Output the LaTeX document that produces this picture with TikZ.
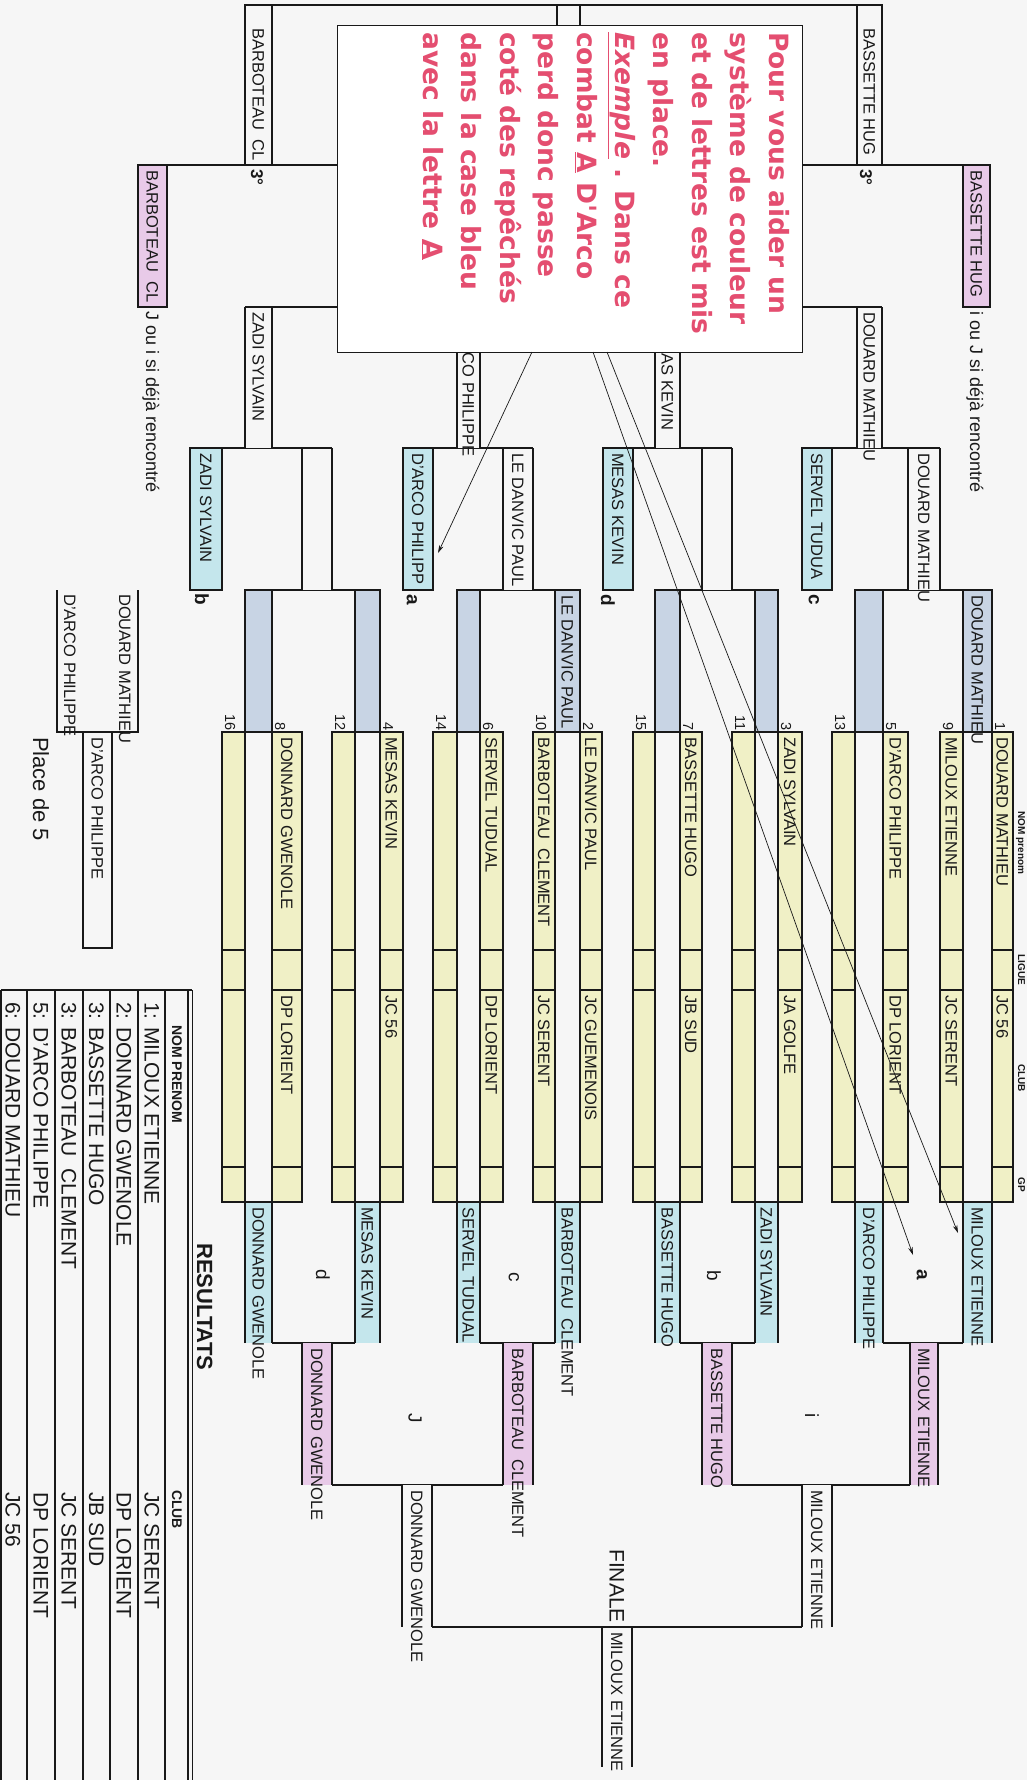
\documentclass[tikz,border=0pt]{standalone}
\usepackage{fontspec}
\setmainfont{Liberation Sans}
\newfontfamily\callfont{DejaVu Sans}
\usetikzlibrary{arrows.meta}
\definecolor{bg}{RGB}{246,246,246}
\definecolor{ink}{RGB}{25,25,25}
\definecolor{yel}{RGB}{240,240,198}
\definecolor{gblue}{RGB}{200,212,228}
\definecolor{lblue}{RGB}{196,230,236}
\definecolor{pinkb}{RGB}{232,202,232}
\definecolor{callred}{RGB}{228,78,112}
% seed column: xL xR number name club id
\newcommand\seedcol[6]{%
  \fill[yel] (#1,732) rectangle (#2,1202);
  \draw[ln] (#1,732) rectangle (#2,1202);
  \draw[ln] (#1,950) -- (#2,950) (#1,990) -- (#2,990) (#1,1167) -- (#2,1167);
  \node[numtxt] (num#6) at (#1+3,731) {#3};
  \node[nm] (seed#6) at ({(#1+#2)/2},737) {#4};
  \node[nm] (club#6) at ({(#1+#2)/2},995) {#5};
}
% box with side lines only: xL xR yT yB colour
\newcommand\sidebox[5]{%
  \fill[#5] (#1,#3) rectangle (#2,#4);
  \draw[ln] (#1,#3) -- (#1,#4) (#2,#3) -- (#2,#4);
}
% box with top and side lines
\newcommand\topbox[5]{%
  \fill[#5] (#1,#3) rectangle (#2,#4);
  \draw[ln] (#1,#4) -- (#1,#3) -- (#2,#3) -- (#2,#4);
}
% closed box
\newcommand\closedbox[5]{%
  \draw[ln,fill=#5] (#1,#3) rectangle (#2,#4);
}
\begin{document}
\begin{tikzpicture}[x=1pt,y=-1pt,
  ln/.style={line width=1.1pt,draw=ink},
  nm/.style={font=\fontsize{16.5}{18}\selectfont,text=ink,rotate=-90,anchor=west,inner sep=0pt,text height=11.8pt,text depth=0pt},
  numtxt/.style={font=\fontsize{14.5}{16}\selectfont,text=ink,rotate=-90,anchor=south east,inner sep=0pt,text depth=0pt},
  lbl/.style={font=\fontsize{19}{21}\selectfont,text=ink,rotate=-90,inner sep=0pt},
  lblb/.style={font=\fontsize{19}{21}\selectfont\bfseries,text=ink,rotate=-90,inner sep=0pt},
  note/.style={font=\fontsize{18}{20}\selectfont,text=ink,rotate=-90,anchor=west,inner sep=0pt,text height=13pt,text depth=0pt},
  tab/.style={font=\fontsize{21}{23}\selectfont,text=ink,rotate=-90,anchor=west,inner sep=0pt,text height=15pt,text depth=0pt},
  tabh/.style={font=\fontsize{14}{16}\selectfont\bfseries,text=ink,rotate=-90,anchor=west,inner sep=0pt,text height=10pt,text depth=0pt},
  hdr/.style={font=\fontsize{10}{11}\selectfont\bfseries,text=ink,rotate=-90,anchor=base,inner sep=0pt},
  call/.style={font=\callfont\bfseries\fontsize{26.5}{30}\selectfont,text=callred,rotate=-90,anchor=base west,inner sep=0pt},
  arr/.style={line width=0.7pt,draw=ink,-{Stealth[length=8pt,width=4.5pt]}}
]
\fill[bg] (0,0) rectangle (1027,1780);
\useasboundingbox (0,0) rectangle (1027,1780);

% ---------------- seeds ----------------
\seedcol{992}{1013}{1}{DOUARD MATHIEU}{JC 56}{a1}
\seedcol{940}{963}{9}{MILOUX ETIENNE}{JC SERENT}{a9}
\seedcol{883}{908}{5}{D'ARCO PHILIPPE}{DP LORIENT}{a5}
\seedcol{832}{855}{13}{}{}{a13}
\seedcol{778}{802}{3}{ZADI SYLVAIN}{JA GOLFE}{a3}
\seedcol{732}{755}{11}{}{}{a11}
\seedcol{680}{702}{7}{BASSETTE HUGO}{JB SUD}{a7}
\seedcol{633}{655}{15}{}{}{a15}
\seedcol{580}{602}{2}{LE DANVIC PAUL}{JC GUEMENOIS}{a2}
\seedcol{533}{555}{10}{BARBOTEAU\ \ CLEMENT}{JC SERENT}{a10}
\seedcol{480}{503}{6}{SERVEL TUDUAL}{DP LORIENT}{a6}
\seedcol{433}{457}{14}{}{}{a14}
\seedcol{380}{403}{4}{MESAS KEVIN}{JC 56}{a4}
\seedcol{332}{355}{12}{}{}{a12}
\seedcol{272}{302}{8}{DONNARD GWENOLE}{DP LORIENT}{a8}
\seedcol{222}{245}{16}{}{}{a16}

\node[hdr] (hnom) at (1018,843) {NOM prenom};
\node[hdr] (hlig) at (1018,970) {LIGUE};
\node[hdr] (hclub) at (1018,1078) {CLUB};
\node[hdr] (hgp) at (1018,1185) {GP};

% ---------------- losers (grey) ----------------
\closedbox{963}{992}{590}{732}{gblue}
\closedbox{855}{883}{590}{732}{gblue}
\closedbox{755}{778}{590}{732}{gblue}
\closedbox{655}{680}{590}{732}{gblue}
\closedbox{555}{580}{590}{732}{gblue}
\closedbox{457}{480}{590}{732}{gblue}
\closedbox{355}{380}{590}{732}{gblue}
\closedbox{245}{272}{590}{732}{gblue}
\node[nm] (gr1) at (977.5,595) {DOUARD MATHIEU};
\node[nm] (gr2) at (567.5,595) {LE DANVIC PAUL};

% ---------------- main bracket ----------------
\topbox{963}{992}{1202}{1343}{lblue}
\topbox{855}{883}{1202}{1343}{lblue}
\topbox{755}{778}{1202}{1343}{lblue}
\topbox{655}{680}{1202}{1343}{lblue}
\topbox{555}{580}{1202}{1343}{lblue}
\topbox{457}{480}{1202}{1343}{lblue}
\topbox{355}{380}{1202}{1343}{lblue}
\topbox{245}{272}{1202}{1343}{lblue}
\node[nm] (w1) at (977.5,1207) {MILOUX ETIENNE};
\node[nm] (w2) at (869,1207) {D'ARCO PHILIPPE};
\node[nm] (w3) at (766.5,1207) {ZADI SYLVAIN};
\node[nm] (w4) at (667.5,1207) {BASSETTE HUGO};
\node[nm] (w5) at (567.5,1207) {BARBOTEAU\ \ CLEMENT};
\node[nm] (w6) at (468.5,1207) {SERVEL TUDUAL};
\node[nm] (w7) at (367.5,1207) {MESAS KEVIN};
\node[nm] (w8) at (258.5,1207) {DONNARD GWENOLE};
\draw[ln] (883,1343) -- (963,1343) (680,1343) -- (755,1343)
          (480,1343) -- (555,1343) (272,1343) -- (355,1343);
\node[lblb] (la) at (922,1275) {a};
\node[lbl] (lb) at (714,1276) {b};
\node[lbl] (lc) at (514,1277) {c};
\node[lbl] (ld) at (323,1275) {d};

\sidebox{910}{938}{1343}{1485}{pinkb}
\sidebox{702}{732}{1343}{1485}{pinkb}
\sidebox{503}{533}{1343}{1485}{pinkb}
\sidebox{302}{332}{1343}{1485}{pinkb}
\node[nm] (q1) at (924,1348) {MILOUX ETIENNE};
\node[nm] (q2) at (717,1348) {BASSETTE HUGO};
\node[nm] (q3) at (518,1348) {BARBOTEAU\ \ CLEMENT};
\node[nm] (q4) at (317,1348) {DONNARD GWENOLE};
\draw[ln] (732,1485) -- (910,1485) (332,1485) -- (503,1485);
\node[lbl] (li) at (812,1416) {i};
\node[lbl] (lj) at (415,1418) {J};

\sidebox{802}{832}{1485}{1627}{bg}
\sidebox{402}{432}{1485}{1627}{bg}
\node[nm] (sf1) at (817,1490) {MILOUX ETIENNE};
\node[nm] (sf2) at (417,1490) {DONNARD GWENOLE};
\draw[ln] (432,1627) -- (802,1627);
\draw[ln] (602,1627) -- (602,1767) (632,1627) -- (632,1767);
\node[font=\fontsize{21}{23}\selectfont,text=ink,rotate=-90,anchor=east,inner sep=0pt,text height=15pt,text depth=0pt] (finale) at (617,1623) {FINALE};
\node[nm] (champ) at (617,1632) {MILOUX ETIENNE};

% ---------------- repechage ----------------
\draw[ln] (245,590) -- (380,590) (457,590) -- (580,590)
          (655,590) -- (778,590) (855,590) -- (992,590);
\sidebox{302}{332}{448}{590}{bg}
\sidebox{503}{533}{448}{590}{bg}
\sidebox{702}{732}{448}{590}{bg}
\sidebox{908}{940}{448}{590}{bg}
\node[nm] (r1) at (518,453) {LE DANVIC PAUL};
\node[nm] (r2) at (924,453) {DOUARD MATHIEU};
\closedbox{190}{222}{448}{590}{lblue}
\closedbox{403}{433}{448}{590}{lblue}
\closedbox{603}{633}{448}{590}{lblue}
\closedbox{802}{832}{448}{590}{lblue}
\node[nm] (e1) at (206,453) {ZADI SYLVAIN};
\node[nm] (e2) at (418,453) {D'ARCO PHILIPP};
\node[nm] (e3) at (618,453) {MESAS KEVIN};
\node[nm] (e4) at (817,453) {SERVEL TUDUA};
\node[lblb] (rb) at (202,599) {b};
\node[lblb] (ra) at (412,600) {a};
\node[lblb] (rd) at (608,600) {d};
\node[lblb] (rc) at (814,600) {c};
\draw[ln] (190,448) -- (332,448) (403,448) -- (533,448)
          (603,448) -- (732,448) (802,448) -- (940,448);
\sidebox{245}{272}{307}{448}{bg}
\sidebox{457}{480}{307}{448}{bg}
\sidebox{655}{680}{307}{448}{bg}
\sidebox{857}{882}{307}{448}{bg}
\node[nm] (t1) at (258.5,312) {ZADI SYLVAIN};
\node[nm] (t2) at (468.5,314) {D'ARCO PHILIPPE};
\node[nm] (t3) at (667.5,318) {MESAS KEVIN};
\node[nm] (t4) at (869.5,312) {DOUARD MATHIEU};
\draw[ln] (245,307) -- (480,307) (655,307) -- (882,307);
\sidebox{355}{380}{165}{307}{bg}
\sidebox{755}{778}{165}{307}{bg}
\draw[ln] (138,165) -- (380,165) (755,165) -- (990,165);
\closedbox{138}{167}{165}{307}{pinkb}
\closedbox{963}{990}{165}{307}{pinkb}
\node[nm] (p1) at (152.5,170) {BARBOTEAU\ \ CL};
\node[nm] (p2) at (976.5,170) {BASSETTE HUG};
\node[note] (n1) at (152.5,311) {J ou i si déjà rencontré};
\node[note] (n2) at (976.5,311) {i ou J si déjà rencontré};
\closedbox{245}{272}{5}{165}{bg}
\closedbox{857}{882}{5}{165}{bg}
\closedbox{557}{580}{5}{165}{bg}
\draw[ln] (245,5) -- (882,5);
\node[nm] (b1) at (258.5,28) {BARBOTEAU\ \ CL};
\node[nm] (b2) at (869.5,28) {BASSETTE HUG};
\node[font=\fontsize{17}{19}\selectfont\bfseries,text=ink,rotate=-90,anchor=west,inner sep=0pt,text height=12pt,text depth=0pt] (third1) at (257,169) {3°};
\node[font=\fontsize{17}{19}\selectfont\bfseries,text=ink,rotate=-90,anchor=west,inner sep=0pt,text height=12pt,text depth=0pt] (third2) at (866,169) {3°};

% ---------------- place de 5 ----------------
\draw[ln] (57,590) -- (57,732) -- (138,732) -- (138,590);
\draw[ln] (83,732) rectangle (112,948);
\node[nm] (p5a) at (70,594) {D'ARCO PHILIPPE};
\node[nm] (p5b) at (125,594) {DOUARD MATHIEU};
\node[nm] (p5w) at (97.5,737) {D'ARCO PHILIPPE};
\node[font=\fontsize{22}{24}\selectfont,text=ink,rotate=-90,anchor=west,inner sep=0pt,text height=15.8pt,text depth=0pt] (place5) at (41,737) {Place de 5};

% ---------------- results ----------------
\node[font=\fontsize{22}{24}\selectfont\bfseries,text=ink,rotate=-90,anchor=west,inner sep=0pt,text height=15.8pt,text depth=0pt] (resul) at (205,1243) {RESULTATS};
\draw[ln] (1,990) -- (192,990);
\draw[ln] (1,990) -- (1,1780);
\foreach \xx in {27,55,83,110,138,165} {\draw[ln] (\xx,990) -- (\xx,1780);}
\draw[ln] (188,990) -- (188,1780);
\draw[ln] (192.5,990) -- (192.5,1780);
\node[tabh] (hn) at (177,1025) {NOM PRENOM};
\node[tabh] (hc) at (177,1490) {CLUB};
\node[tab] (r1n) at (152,1002) {1: MILOUX ETIENNE};
\node[tab] (r2n) at (124,1002) {2: DONNARD GWENOLE};
\node[tab] (r3n) at (96.5,1002) {3: BASSETTE HUGO};
\node[tab] (r4n) at (69,1002) {3: BARBOTEAU\ \ CLEMENT};
\node[tab] (r5n) at (41,1002) {5: D'ARCO PHILIPPE};
\node[tab] (r6n) at (13,1002) {6: DOUARD MATHIEU};
\node[tab] (r1c) at (152,1492) {JC SERENT};
\node[tab] (r2c) at (124,1492) {DP LORIENT};
\node[tab] (r3c) at (96.5,1492) {JB SUD};
\node[tab] (r4c) at (69,1492) {JC SERENT};
\node[tab] (r5c) at (41,1492) {DP LORIENT};
\node[tab] (r6c) at (13,1492) {JC 56};

% ---------------- callout ----------------
\node[draw=ink,line width=1pt,fill=white,minimum width=465pt,minimum height=327pt,inner sep=0pt,anchor=north west] (callout) at (337,25) {};
\node[call] (cl1) at (769,32) {Pour vous aider un};
\node[call] (cl2) at (730.6,32) {système de couleur};
\node[call] (cl3) at (692.2,32) {et de lettres est mis};
\node[call] (cl4) at (653.8,32) {en place.};
\node[call] (cl5) at (615.4,32) {\underline{\itshape Exemple} . Dans ce};
\node[call] (cl6) at (577,32) {combat \underline{A} D'Arco};
\node[call] (cl7) at (538.6,32) {perd donc passe};
\node[call] (cl8) at (500.2,32) {coté des repêchés};
\node[call] (cl9) at (461.8,32) {dans la case bleu};
\node[call] (cl10) at (423.4,32) {avec la lettre \underline{A}};

\coordinate (ar1s) at (532,352);
\coordinate (ar1e) at (438,553);
\coordinate (ar2s) at (593,352);
\coordinate (ar2e) at (913,1255);
\coordinate (ar3s) at (607,352);
\coordinate (ar3e) at (958,1233);
\draw[arr] (ar1s) -- (ar1e);
\draw[arr] (ar2s) -- (ar2e);
\draw[arr] (ar3s) -- (ar3e);
\end{tikzpicture}
\end{document}
